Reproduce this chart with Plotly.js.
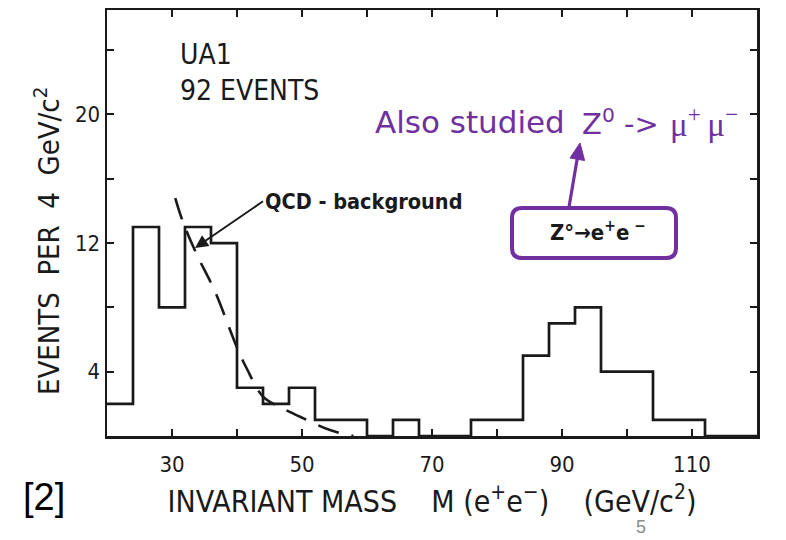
<!DOCTYPE html>
<html>
<head>
<meta charset="utf-8">
<script src="https://cdn.plot.ly/plotly-3.0.1.min.js"></script>
<style>html,body{margin:0;padding:0;background:#fff;}#chart{width:786px;height:540px;}</style>
</head>
<body>
<div id="chart"></div>
<script>
// Histogram: left edges of the 4 GeV/c^2 bins and event counts
const binLeftEdges = [20,24,28,32,36,40,44,48,52,56,60,64,68,72,76,80,84,88,92,96,100,104,108,112,116];
const binCounts    = [2,13,8,13,12,3,2,3,1,1,0,1,0,0,1,1,5,7,8,4,4,1,1,0,0];
const binWidth = 4;

// QCD background curve (dashed)
const qcdMass  = [30.5, 31.7, 33.8, 36.6, 40.0, 41.5, 44.0, 46.6, 49.7, 54.3, 57.9];
const qcdCount = [14.8, 13.3, 11.3, 9.0, 5.5, 4.2, 2.45, 1.8, 1.2, 0.37, 0.0];

// Labelled ticks
const xTickVals = [30,50,70,90,110];
const xTickText = ['30','50','70','90','110'];
const yTickVals = [4,12,20];
const yTickText = ['4','12','20'];

// step outline of the histogram
const stepX = binLeftEdges.concat([binLeftEdges[binLeftEdges.length-1] + binWidth]);
const stepY = binCounts.concat([binCounts[binCounts.length-1]]);

const ink = '#1a1a1a';
const purple = '#7030A0';
const scanFont = 'DejaVu Sans Condensed, DejaVu Sans, sans-serif';
const noteFont = 'DejaVu Sans, Open Sans, sans-serif';
const NB = '\u00a0';

const traces = [
  {x: stepX, y: stepY, type: 'scatter', mode: 'lines', line: {shape: 'hv', color: ink, width: 2.7},
   hoverinfo: 'skip', showlegend: false},
  {x: qcdMass, y: qcdCount, type: 'scatter', mode: 'lines',
   line: {shape: 'spline', color: ink, width: 2.6, dash: '22px,13px'}, showlegend: false}
];

// paper-coordinate helpers for the overlay decorations (pixel -> paper)
const px = p => (p - 107) / 650;
const py = p => (436 - p) / 426;

// rounded box
const bx0 = px(512), bx1 = px(676), by0 = py(258), by1 = py(208), rx = 10/650, ry = 10/426;
const boxPath = `M ${bx0+rx},${by1} L ${bx1-rx},${by1} Q ${bx1},${by1} ${bx1},${by1-ry} L ${bx1},${by0+ry} Q ${bx1},${by0} ${bx1-rx},${by0} L ${bx0+rx},${by0} Q ${bx0},${by0} ${bx0},${by0+ry} L ${bx0},${by1-ry} Q ${bx0},${by1} ${bx0+rx},${by1} Z`;
// purple arrow head
const headPath = `M ${px(580)},${py(143)} L ${px(584.6)},${py(160.5)} L ${px(570)},${py(158)} Z`;

const tickStyle = {ticks: 'inside', ticklen: 7, tickwidth: 2, tickcolor: ink};

const layout = {
  width: 786, height: 540,
  margin: {l: 107, r: 29, t: 10, b: 104},
  paper_bgcolor: '#fff', plot_bgcolor: '#fff',
  showlegend: false,
  font: {family: scanFont, color: ink},
  xaxis: Object.assign({
    range: [20, 120], showgrid: false, zeroline: false,
    showline: true, linecolor: ink, linewidth: 2.5, mirror: 'ticks',
    tickmode: 'array', tickvals: xTickVals, ticktext: xTickText,
    minor: Object.assign({tick0: 0, dtick: 10, showgrid: false}, tickStyle),
    tickfont: {family: scanFont, size: 22, color: ink},
    ticklabelstandoff: 7,
    title: {text: 'INVARIANT' + NB + 'MASS' + NB+NB+NB+NB + 'M' + NB + '(e<sup>+</sup>e<sup>\u2212</sup>)' + NB+NB+NB+NB + '(GeV/c<sup>2</sup>)',
            font: {family: scanFont, size: 30, color: ink}, standoff: 15}
  }, tickStyle),
  yaxis: Object.assign({
    range: [0, 26.5], showgrid: false, zeroline: false,
    showline: true, linecolor: ink, linewidth: 2.5, mirror: 'ticks',
    tickmode: 'array', tickvals: yTickVals, ticktext: yTickText,
    minor: Object.assign({tick0: 0, dtick: 4, showgrid: false}, tickStyle),
    tickfont: {family: scanFont, size: 22, color: ink}
  }, tickStyle),
  shapes: [
    {type: 'path', xref: 'paper', yref: 'paper', path: boxPath,
     line: {color: purple, width: 4}, fillcolor: 'rgba(255,255,255,0)'},
    {type: 'line', xref: 'paper', yref: 'paper', x0: px(569), y0: py(207), x1: px(577.5), y1: py(157),
     line: {color: purple, width: 3.2}},
    {type: 'path', xref: 'paper', yref: 'paper', path: headPath,
     line: {color: purple, width: 1}, fillcolor: purple}
  ],
  annotations: [
    // y-axis title
    {xref: 'paper', yref: 'paper', x: px(47), y: py(241), xanchor: 'center', yanchor: 'middle', textangle: -90,
     text: 'EVENTS' + NB+NB + 'PER' + NB+NB + '4' + NB+NB + 'GeV/c<sup>2</sup>', showarrow: false,
     font: {family: scanFont, size: 29, color: ink}},
    {xref: 'paper', yref: 'paper', x: px(178), y: py(55), xanchor: 'left', yanchor: 'middle',
     text: 'UA1', showarrow: false, font: {family: scanFont, size: 28, color: ink}},
    {xref: 'paper', yref: 'paper', x: px(178), y: py(91), xanchor: 'left', yanchor: 'middle',
     text: '92' + NB + 'EVENTS', showarrow: false, font: {family: scanFont, size: 28, color: ink}},
    {xref: 'x', yref: 'y', x: 33.54, y: 11.7, axref: 'x', ayref: 'y', ax: 44.0, ay: 14.6,
     xanchor: 'left', yanchor: 'middle', text: 'QCD - background', showarrow: true,
     arrowhead: 2, arrowsize: 1.3, arrowwidth: 2, arrowcolor: ink, standoff: 0, startstandoff: 0,
     font: {family: scanFont, size: 21.5, color: ink, weight: 'bold'}},
    // purple note, in three pieces
    {xref: 'paper', yref: 'paper', x: px(373), y: py(122), xanchor: 'left', yanchor: 'middle',
     text: 'Also studied', showarrow: false,
     font: {family: noteFont, size: 31, color: purple}},
    {xref: 'paper', yref: 'paper', x: px(580), y: py(122), xanchor: 'left', yanchor: 'middle',
     text: 'Z<sup>0</sup>' + NB + '-\u200c>', showarrow: false,
     font: {family: noteFont, size: 29, color: purple}},
    {xref: 'paper', yref: 'paper', x: px(668), y: py(122), xanchor: 'left', yanchor: 'middle',
     text: '\u03bc<sup>+</sup>\u2009\u03bc<sup>\u2212</sup>', showarrow: false,
     font: {family: 'Liberation Serif, DejaVu Serif, serif', size: 33, color: purple}},
    {xref: 'paper', yref: 'paper', x: px(598), y: py(231), xanchor: 'center', yanchor: 'middle',
     text: 'Z\u00b0\u2192e<sup>+</sup>e<sup>' + NB + '\u2212</sup>', showarrow: false,
     font: {family: scanFont, size: 22, color: ink, weight: 'bold'}},
    {xref: 'paper', yref: 'paper', x: px(44), y: py(497), xanchor: 'center', yanchor: 'middle',
     text: '[2]', showarrow: false, font: {family: 'Liberation Sans, Arial, sans-serif', size: 38, color: '#000'}},
    {xref: 'paper', yref: 'paper', x: px(641), y: py(538), xanchor: 'center', yanchor: 'bottom', borderpad: 0,
     text: '5', showarrow: false, font: {family: 'Liberation Sans, Arial, sans-serif', size: 18, color: '#8a8a8a'}}
  ]
};

Plotly.newPlot('chart', traces, layout, {displayModeBar: false, staticPlot: true});
</script>
</body>
</html>
